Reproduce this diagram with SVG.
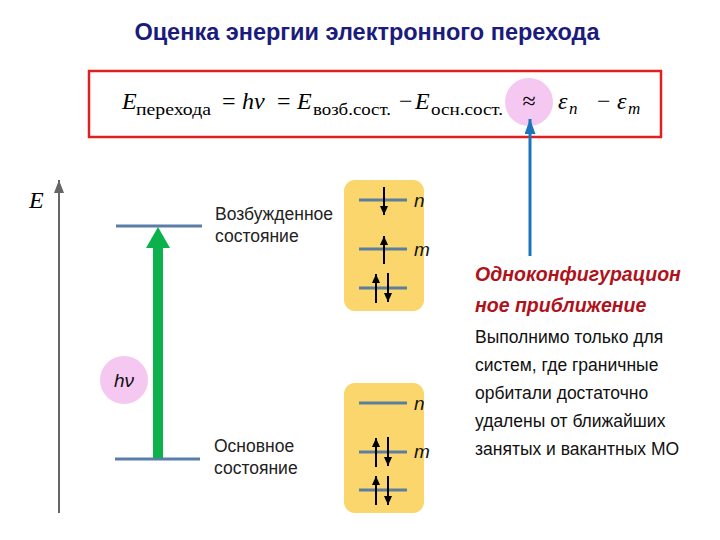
<svg xmlns="http://www.w3.org/2000/svg" width="720" height="540" viewBox="0 0 720 540">
<style>
.ttl{font-family:"Liberation Sans",Arial,sans-serif;font-weight:bold;font-size:23.5px;fill:#1b1b7c}
.m{font-family:"Liberation Serif","DejaVu Serif",serif;font-size:24px;fill:#000}
.mi{font-style:italic}
.sub{font-family:"Liberation Serif","DejaVu Serif",serif;font-size:17px;fill:#000}
.lbl{font-family:"Liberation Sans",Arial,sans-serif;font-size:17.5px;fill:#222}
.nm{font-family:"Liberation Sans",Arial,sans-serif;font-style:italic;font-size:19px;fill:#111}
.red{font-family:"Liberation Sans",Arial,sans-serif;font-weight:bold;font-style:italic;font-size:19.5px;fill:#b0121b}
.txt{font-family:"Liberation Sans",Arial,sans-serif;font-size:17.5px;fill:#111}
.lvl{stroke:#5b7e9f;stroke-width:3;fill:none}
.st{stroke:#5b7ea8;stroke-width:3;fill:none}
.sp{stroke:#000;stroke-width:2;fill:none;marker-end:url(#ah)}
.box{fill:#fbd66d}
</style>
<defs>
<marker id="ah" markerUnits="userSpaceOnUse" markerWidth="10" markerHeight="10" refX="9" refY="4" orient="auto">
<path d="M0,0 L9,4 L0,8 Z" fill="#000"/>
</marker>
<marker id="ahg" markerUnits="userSpaceOnUse" markerWidth="14" markerHeight="12" refX="13" refY="5" orient="auto">
<path d="M0,0 L13,5 L0,10 Z" fill="#666"/>
</marker>
<marker id="ahb" markerUnits="userSpaceOnUse" markerWidth="16" markerHeight="12" refX="15" refY="5.5" orient="auto">
<path d="M0,0 L15,5.5 L0,11 Z" fill="#1b75bc"/>
</marker>
</defs>

<g id="title"><text class="ttl" x="367" y="40" text-anchor="middle">Оценка энергии электронного перехода</text></g>

<g id="formula">
<rect x="89" y="71" width="572" height="66" fill="#fff" stroke="#e0201f" stroke-width="2.5"/>
<circle cx="529" cy="102" r="24" fill="#f5c8f2"/>
<text class="m mi" x="122" y="109">E</text>
<text class="sub" x="136" y="115" textLength="75" lengthAdjust="spacingAndGlyphs">перехода</text>
<text class="m" x="222" y="109">=</text>
<text class="m mi" x="242" y="109">hν</text>
<text class="m" x="277" y="109">=</text>
<text class="m mi" x="297" y="109">E</text>
<text class="sub" x="313" y="115" textLength="78" lengthAdjust="spacingAndGlyphs">возб.сост.</text>
<text class="m" x="399" y="109">−</text>
<text class="m mi" x="415" y="109">E</text>
<text class="sub" x="431" y="115" textLength="72" lengthAdjust="spacingAndGlyphs">осн.сост.</text>
<text class="m" x="529" y="109" text-anchor="middle">≈</text>
<text class="m mi" x="558" y="109">ε</text>
<text class="sub mi" x="569" y="114">n</text>
<text class="m" x="597" y="109">−</text>
<text class="m mi" x="617" y="109">ε</text>
<text class="sub mi" x="628" y="114">m</text>
</g>

<g id="axis">
<line x1="59" y1="513" x2="59" y2="180" stroke="#666" stroke-width="2" marker-end="url(#ahg)"/>
<text class="m mi" x="29" y="208" font-size="19px">E</text>
</g>

<g id="excited">
<line class="st" x1="116" y1="226" x2="202" y2="226"/>
<text class="lbl" x="215" y="220">Возбужденное</text>
<text class="lbl" x="215" y="242">состояние</text>
</g>

<g id="ground">
<line class="st" x1="115" y1="459" x2="200" y2="459"/>
<text class="lbl" x="214" y="452">Основное</text>
<text class="lbl" x="214" y="474">состояние</text>
</g>

<g id="transition">
<path d="M153,458 L153,248 L146,248 L158,227 L170,248 L163,248 L163,458 Z" fill="#0db14b"/>
</g>

<g id="hv">
<circle cx="124" cy="380" r="24" fill="#f5c8f2"/>
<text class="nm" x="124" y="387" text-anchor="middle" font-size="18px">hν</text>
</g>

<g id="excited-config">
<rect class="box" x="344" y="180" width="80" height="131" rx="11"/>
<line class="lvl" x1="359" y1="200" x2="407" y2="200"/>
<line class="lvl" x1="359" y1="249" x2="407" y2="249"/>
<line class="lvl" x1="359" y1="288" x2="407" y2="288"/>
<line class="sp" x1="384" y1="187" x2="384" y2="215"/>
<line class="sp" x1="384" y1="264" x2="384" y2="236"/>
<line class="sp" x1="376" y1="303" x2="376" y2="274"/>
<line class="sp" x1="388" y1="273" x2="388" y2="302"/>
<text class="nm" x="414" y="207">n</text>
<text class="nm" x="414" y="256">m</text>
</g>

<g id="ground-config">
<rect class="box" x="344" y="383" width="80" height="130" rx="11"/>
<line class="lvl" x1="359" y1="403" x2="407" y2="403"/>
<line class="lvl" x1="359" y1="452" x2="407" y2="452"/>
<line class="lvl" x1="359" y1="490" x2="407" y2="490"/>
<line class="sp" x1="376" y1="467" x2="376" y2="438"/>
<line class="sp" x1="388" y1="437" x2="388" y2="466"/>
<line class="sp" x1="376" y1="505" x2="376" y2="476"/>
<line class="sp" x1="388" y1="476" x2="388" y2="505"/>
<text class="nm" x="414" y="410">n</text>
<text class="nm" x="414" y="458">m</text>
</g>

<g id="connectors">
<line x1="530" y1="256" x2="530" y2="119" stroke="#1b75bc" stroke-width="3" marker-end="url(#ahb)"/>
</g>

<g id="note">
<text class="red" x="475" y="281">Одноконфигурацион</text>
<text class="red" x="475" y="312">ное приближение</text>
<text class="txt" x="475" y="343">Выполнимо только для</text>
<text class="txt" x="475" y="371">систем, где граничные</text>
<text class="txt" x="475" y="399">орбитали достаточно</text>
<text class="txt" x="475" y="427">удалены от ближайших</text>
<text class="txt" x="475" y="455">занятых и вакантных МО</text>
</g>
</svg>
